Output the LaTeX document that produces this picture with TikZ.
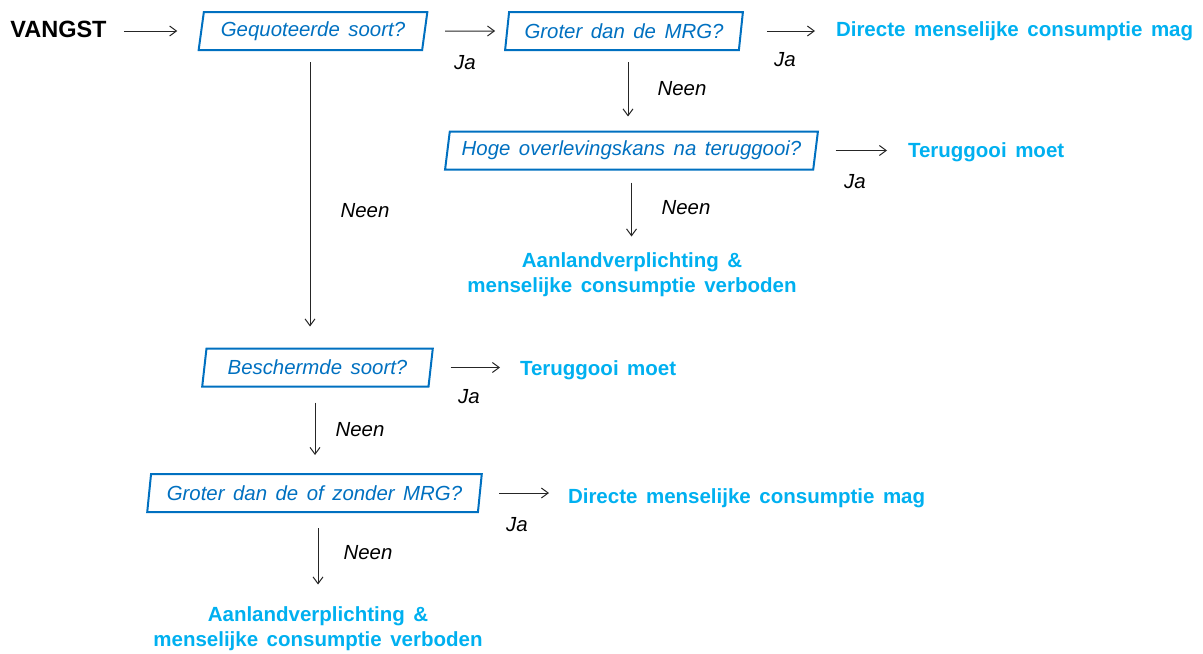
\documentclass[tikz,border=0pt]{standalone}
\usepackage{fontspec}
\setmainfont{Liberation Sans}[WordSpace=1.5]
\usetikzlibrary{shapes.geometric,arrows.meta}
\definecolor{boxblue}{HTML}{0070C0}
\definecolor{outcyan}{HTML}{00B0F0}
\definecolor{arrgray}{HTML}{262626}
\begin{document}
\begin{tikzpicture}[x=0.5pt,y=-0.5pt,
  qbox/.style={trapezium, trapezium left angle=77, trapezium right angle=103,
    trapezium stretches=true, draw=boxblue, line width=1pt, text=boxblue,
    font=\fontsize{10.2}{12}\selectfont\itshape, minimum height=19pt,
    inner sep=0pt, outer sep=0pt},
  outc/.style={text=outcyan, font=\fontsize{10.25}{12.5}\selectfont\bfseries,
    inner sep=0pt, outer sep=0pt},
  lbl/.style={font=\fontsize{10.2}{12}\selectfont\itshape, inner sep=0pt},
  arr/.style={-{Straight Barb[length=3.4pt,width=5pt,line width=0.5pt]}, draw=arrgray, line width=0.5pt},
]
\useasboundingbox (0,0) rectangle (1203,653);

% start
\node[anchor=base west, inner sep=0pt, font=\fontsize{11.75}{14}\selectfont\bfseries] (vangst) at (10,37.7) {VANGST};

% question boxes
\node[qbox, minimum width=115pt] (b1) at (313,31) {Gequoteerde soort?};
\node[qbox, minimum width=119pt] (b2) at (624,31) {Groter dan de MRG?};
\node[qbox, minimum width=186.5pt] (b3) at (631.5,150.5) {Hoge overlevingskans na teruggooi?};
\node[qbox, minimum width=115.5pt] (b4) at (317.5,367.5) {Beschermde soort?};
\node[qbox, minimum width=167.5pt] (b5) at (314.5,493) {Groter dan de of zonder MRG?};

% outcomes
\node[outc, anchor=base west] (o1) at (836,36) {Directe menselijke consumptie mag};
\node[outc, anchor=base west] (o2) at (908,157) {Teruggooi moet};
\node[outc, anchor=north, align=center] (o3) at (632,252.5) {Aanlandverplichting \&\\menselijke consumptie verboden};
\node[outc, anchor=base west] (o4) at (520,375) {Teruggooi moet};
\node[outc, anchor=base west] (o5) at (568,503) {Directe menselijke consumptie mag};
\node[outc, anchor=north, align=center] (o6) at (318,606.5) {Aanlandverplichting \&\\menselijke consumptie verboden};

% arrows
\draw[arr, shorten <=8.5pt, shorten >=12pt] (vangst.east |- b1.west) -- (b1.west);
\draw[arr, shorten <=10.25pt, shorten >=6pt] (b1.east) -- (b2.west);
\draw[arr, shorten <=13pt, shorten >=10.5pt] (b2.east) -- (b2.east -| o1.west);
\draw[arr, shorten <=6pt, shorten >=7.5pt] ([xshift=2pt]b2.south) -- ([xshift=2pt]b2.south |- b3.north);
\draw[arr, shorten <=10pt, shorten >=10.5pt] (b3.east) -- (b3.east -| o2.west);
\draw[arr, shorten <=6.5pt, shorten >=8pt] (b3.south) -- (b3.south |- o3.north);
\draw[arr, shorten <=6pt, shorten >=11pt] ([xshift=-1.5pt]b1.south) -- ([xshift=-1.5pt]b1.south |- b4.north);
\draw[arr, shorten <=10pt, shorten >=10pt] (b4.east) -- (b4.east -| o4.west);
\draw[arr, shorten <=8pt, shorten >=9.5pt] ([xshift=-1.25pt]b4.south) -- ([xshift=-1.25pt]b4.south |- b5.north);
\draw[arr, shorten <=9.75pt, shorten >=9.5pt] (b5.east) -- (b5.east -| o5.west);
\draw[arr, shorten <=8pt, shorten >=11pt] ([xshift=1.75pt]b5.south) -- ([xshift=1.75pt]b5.south |- o6.north);

% labels
\node[lbl] (ja1) at (465,63) {Ja};
\node[lbl] (ja2) at (785,60) {Ja};
\node[lbl] (neen1) at (682,88.5) {Neen};
\node[lbl] (ja3) at (855,182) {Ja};
\node[lbl] (neen2) at (686,208) {Neen};
\node[lbl] (neen3) at (365,211) {Neen};
\node[lbl] (ja4) at (469,397) {Ja};
\node[lbl] (neen4) at (360,430) {Neen};
\node[lbl] (ja5) at (517,525) {Ja};
\node[lbl] (neen5) at (368,553) {Neen};
\end{tikzpicture}
\end{document}
